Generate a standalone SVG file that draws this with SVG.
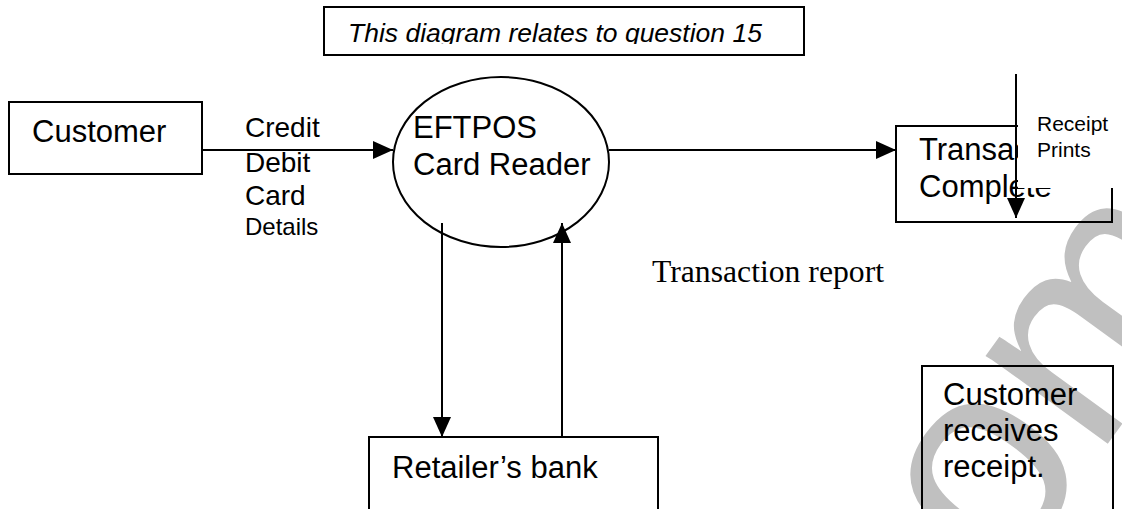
<svg xmlns="http://www.w3.org/2000/svg" width="1122" height="509" viewBox="0 0 1122 509">
<style>
  .box { fill: none; stroke: #000; stroke-width: 2; }
  .t { font-family: "Liberation Sans", Arial, sans-serif; fill: #000; }
  .node { font-size: 31px; }
  .lbl { font-size: 28px; }
  .small { font-size: 24px; }
  .rcpt { font-size: 21px; }
  .cap { font-size: 26.5px; font-style: italic; }
  .serif { font-family: "Liberation Serif", "Times New Roman", serif; font-size: 31px; fill: #000; }
  .conn { fill: none; stroke: #000; stroke-width: 2; marker-end: url(#arrow); }
  .wm { font-family: "Liberation Sans", Arial, sans-serif; font-size: 285px; fill: #c0c0c0; }
</style>
<defs>
  <marker id="arrow" markerUnits="userSpaceOnUse" markerWidth="20" markerHeight="18" refX="20" refY="9" orient="auto">
    <path d="M0,0 L20,9 L0,18 z" fill="#000"/>
  </marker>
  <clipPath id="capclip"><rect x="324" y="7" width="480" height="37"/></clipPath>
</defs>
<rect width="1122" height="509" fill="#fff"/>

<g id="watermark">
  <text class="wm" transform="translate(1003,588) rotate(-54)">om</text>
</g>

<g id="caption">
  <rect class="box" x="324" y="7" width="480" height="48"/>
  <text class="t cap" x="348" y="42" clip-path="url(#capclip)">This diagram relates to question 15</text>
</g>

<g id="customer">
  <rect class="box" x="9" y="102" width="193" height="72"/>
  <text class="t node" x="32" y="142">Customer</text>
</g>

<g id="eftpos">
  <ellipse class="box" cx="501" cy="162" rx="108" ry="85"/>
  <text class="t node" x="413" y="138">EFTPOS</text>
  <text class="t node" x="413" y="175">Card Reader</text>
</g>

<g id="transaction">
  <rect class="box" x="896" y="126" width="216" height="96"/>
  <text class="t node" x="919" y="160">Transaction</text>
  <text class="t node" x="919" y="197">Complete</text>
</g>

<g id="retailers-bank">
  <rect class="box" x="369" y="437" width="289" height="80"/>
  <text class="t node" x="392" y="478">Retailer’s bank</text>
</g>

<g id="customer-receives">
  <rect class="box" x="922" y="366" width="191" height="150"/>
  <text class="t node" x="943" y="405">Customer</text>
  <text class="t node" x="943" y="441">receives</text>
  <text class="t node" x="943" y="477">receipt.</text>
</g>

<g id="connectors">
  <g id="label-card-details">
    <text class="t lbl" x="245" y="137">Credit</text>
    <text class="t lbl" x="245" y="172">Debit</text>
    <text class="t lbl" x="245" y="205">Card</text>
    <text class="t small" x="245" y="235">Details</text>
  </g>
  <g id="label-transaction-report">
    <text class="serif" x="652" y="282" textLength="232" lengthAdjust="spacingAndGlyphs">Transaction report</text>
  </g>
  <g id="label-receipt-prints">
    <rect x="1018" y="95" width="104" height="93" fill="#fff"/>
    <text class="t rcpt" x="1037" y="131">Receipt</text>
    <text class="t rcpt" x="1037" y="157">Prints</text>
  </g>
  <path class="conn" d="M202,150 L393,150"/>
  <path class="conn" d="M609,150 L896,150"/>
  <path class="conn" d="M442,223 L442,437"/>
  <path class="conn" d="M562,437 L562,223"/>
  <path class="conn" d="M1016,74 L1016,218"/>
</g>
</svg>
